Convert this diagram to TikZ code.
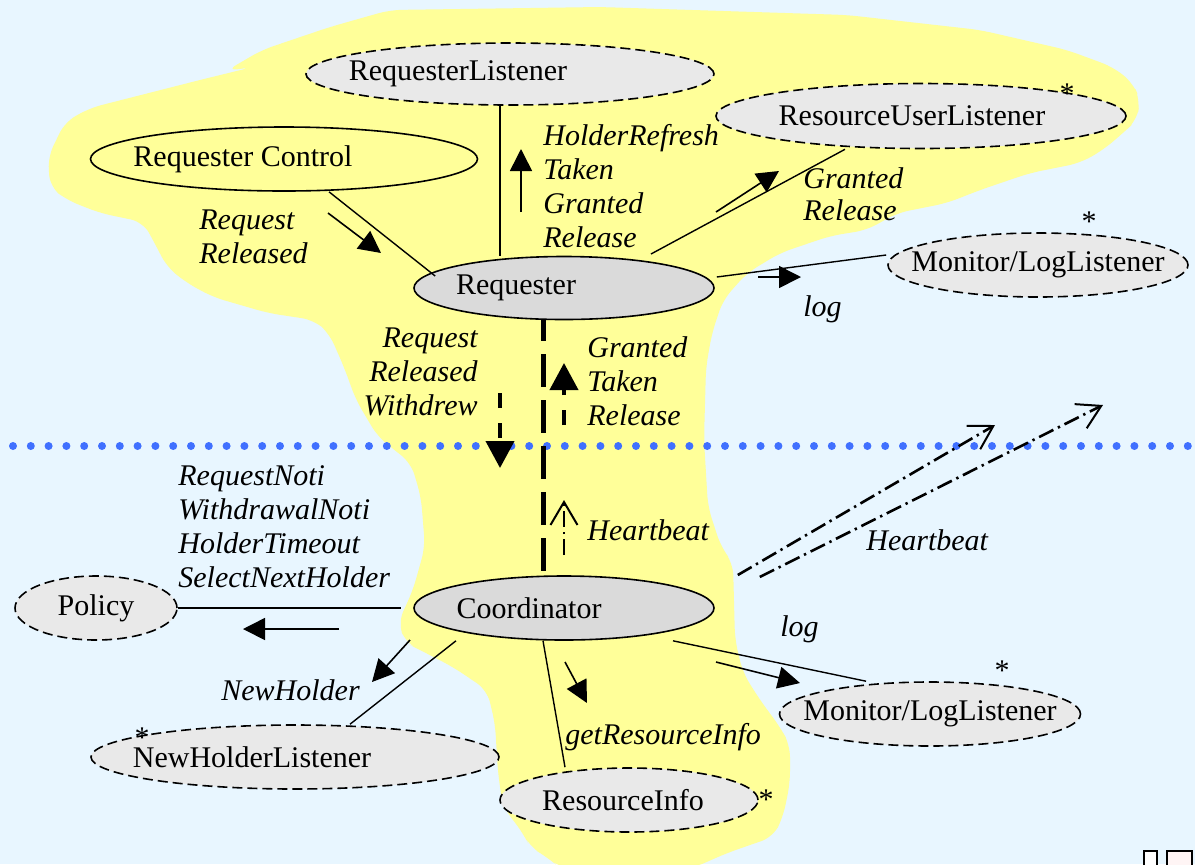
\documentclass[tikz,border=0pt]{standalone}
\usepackage{fontspec}
\setmainfont{Liberation Serif}
\usepackage{xcolor}
\usepackage{tikz}
\usetikzlibrary{arrows.meta, calc, shapes.geometric}

\definecolor{skyback}{RGB}{232,246,255}
\definecolor{blobyellow}{RGB}{255,255,153}
\definecolor{dotblue}{RGB}{64,112,255}
\definecolor{procgray}{RGB}{218,218,218}
\definecolor{lsngray}{RGB}{233,233,233}

% 椭圆里的文字, 可向左偏移
\newcommand{\ovaltext}[2][0pt]{\makebox[0pt]{\hspace*{#1}#2}}

\begin{document}
\begin{tikzpicture}[x=0.5pt, y={(0pt,-0.5pt)},
    every node/.style={font=\fontsize{15pt}{17pt}\selectfont},
    proc/.style={ellipse, draw, line width=0.8pt, fill=procgray, minimum width=150pt, minimum height=32pt, inner sep=0pt},
    ctrl/.style={ellipse, draw, line width=0.8pt, minimum height=32pt, inner sep=0pt},
    lsn/.style={ellipse, draw, line width=0.8pt, dash pattern=on 5pt off 2.5pt, fill=lsngray, minimum height=32pt, inner sep=0pt},
    msg/.style={font=\fontsize{15pt}{17pt}\selectfont\itshape, inner sep=0pt, anchor=north west, align=left},
    mult/.style={inner sep=0pt, anchor=base},
    link/.style={line width=0.7pt},
    flow/.style={line width=0.8pt, -{Triangle[length=11pt, width=11pt]}},
    bus/.style={line width=2.5pt, dash pattern=on 16.5pt off 6.5pt, dash phase=6pt},
    busflow/.style={line width=2pt, dash pattern=on 7.5pt off 7.5pt, -{Triangle[length=13.5pt, width=14pt]}},
    beat/.style={line width=1.3pt, dash pattern=on 8pt off 2.5pt on 1.2pt off 2.5pt, -{Straight Barb[length=11.5pt, width=13.5pt, line width=1pt]}},
    dotline/.style={draw=dotblue, line width=4pt, line cap=round, dash pattern=on 0pt off 8.9pt}
]
    % 背景
    \useasboundingbox (0,0) rectangle (1195,864);
    \fill[skyback] (0,0) rectangle (1195,864);
    \fill[blobyellow, rounded corners=6pt]
        (226,71) -- (262,50) -- (330,27) -- (390,10) -- (600,7) -- (847,15) -- (980,30)
        -- (1067,50) -- (1113,67) -- (1133,83) -- (1140,100) -- (1137,120) -- (1123,133)
        -- (1103,150) -- (1080,163) -- (1030,173) -- (980,190) -- (947,203) -- (897,213)
        -- (867,230) -- (830,236) -- (780,253) -- (747,273) -- (723,300) -- (712,333)
        -- (706,367) -- (704,440) -- (708,507) -- (721,547) -- (733,563) -- (735,640)
        -- (743,673) -- (760,700) -- (780,727) -- (790,745) -- (790,783) -- (783,817)
        -- (773,837) -- (727,853) -- (693,868) -- (560,868) -- (547,857) -- (530,847)
        -- (523,833) -- (503,807) -- (498,773) -- (495,723) -- (487,690) -- (453,667)
        -- (420,650) -- (406,643) -- (398,623) -- (413,590) -- (425,547) -- (421,497)
        -- (411,463) -- (378,437) -- (356,400) -- (344,367) -- (329,333) -- (314,320)
        -- (268,313) -- (213,297) -- (187,283) -- (167,267) -- (153,240) -- (143,222)
        -- (100,213) -- (67,200) -- (50,187) -- (48,157) -- (65,122) -- (90,108)
        -- (200,80) -- (253,67) -- cycle;
    \draw[dotline] (13,446) -- (1195,446);

    % 节点
    \node[lsn, minimum width=204pt, minimum height=31pt] (rl) at (510,74) {\ovaltext[-52pt]{RequesterListener}};
    \node[lsn, minimum width=205pt, minimum height=32.5pt] (rul) at (921,116) {\ovaltext[-9pt]{ResourceUserListener}};
    \node[ctrl, minimum width=193.5pt] (rc) at (284,159) {\ovaltext[-41pt]{Requester Control}};
    \node[proc, minimum height=31.5pt] (req) at (564,288) {\ovaltext[-48pt]{Requester}};
    \node[lsn, minimum width=150pt] (mon) at (1038,265) {\ovaltext{Monitor/LogListener}};
    \node[proc] (coord) at (564,608) {\ovaltext[-35pt]{Coordinator}};
    \node[lsn, minimum width=81pt] (pol) at (96,608) {\ovaltext{Policy}};
    \node[lsn, minimum width=204pt] (nhl) at (295,757) {\ovaltext[-43pt]{NewHolderListener}};
    \node[lsn, minimum width=129pt] (ri) at (629,800) {\ovaltext[-6pt]{ResourceInfo}};
    \node[lsn, minimum width=150.5pt] (mlog) at (930,714) {\ovaltext{Monitor/LogListener}};

    % 多重性
    \node[mult] (s1) at (1067,103) {*};
    \node[mult] (s2) at (1089,231) {*};
    \node[mult] (s3) at (1002,680) {*};
    \node[mult] (s4) at (142,747) {*};
    \node[mult] (s5) at (766,809) {*};

    % 连线
    \coordinate (rlfoot) at ($(rl.south)+(-10,0)$);
    \draw[link] (rlfoot) -- (rlfoot |- req.north);
    \draw[link] ($(rc.south)+(45,0)$) -- ($(req.west)+(22,-12)$);
    \draw[link] ($(req.center)+(87,-34)$) -- ($(rul.south)+(-76,0)$);
    \draw[link] ($(req.east)+(2,-11)$) -- ($(mon.west)+(-1,-10)$);
    \draw[link] (pol.east) -- ($(coord.west)+(-12,0)$);
    \draw[link] ($(coord.south)+(-108,0)$) -- ($(nhl.north)+(55,0)$);
    \draw[link] ($(coord.south)+(-21,0)$) -- ($(ri.north)+(-64,0)$);
    \draw[link] ($(coord.south)+(109,0)$) -- ($(mlog.north)+(-64,0)$);
    \draw[bus] ($(req.south)+(-21,0)$) -- ($(coord.north)+(-21,0)$);

    % 消息箭头
    \draw[flow] (521,212) -- (521,149);
    \draw[flow] (328,213) -- (381,253);
    \draw[flow] (716,212) -- (779,171);
    \draw[flow] (758,277) -- (801,277);
    \draw[flow] (339,629) -- (243,629);
    \draw[flow] (410,640) -- (372,682);
    \draw[flow] (565,662) -- (587,703);
    \draw[flow] (716,662) -- (800,683);
    \draw[busflow] (500,393) -- (500,468);
    \draw[busflow] (564,425) -- (564,363);
    \draw[beat] (564,555) -- (564,500);

    % 心跳
    \coordinate (hbA) at (995,425);
    \coordinate (hbB) at (1103,405);
    \draw[beat] ($(coord.east)+(23,-33)$) -- (hbA);
    \draw[beat] ($(coord.east)+(45,-31)$) -- (hbB);

    % 标注
    \node[msg] (m1) at (543,124) {HolderRefresh\\Taken\\Granted\\Release};
    \node[msg] (m2) at (199,209) {Request\\Released};
    \node[msg, font=\fontsize{15pt}{16pt}\selectfont\itshape] (m3) at (803,167) {Granted\\Release};
    \node[msg] (m4) at (803,295) {log};
    \node[msg, anchor=north east, align=right] (m5) at (478,327) {Request\\Released\\Withdrew};
    \node[msg] (m6) at (587,336) {Granted\\Taken\\Release};
    \node[msg] (m7) at (587,519) {Heartbeat};
    \node[msg] (m8) at (178,465) {RequestNoti\\WithdrawalNoti\\HolderTimeout\\SelectNextHolder};
    \node[msg] (m9) at (221,679) {NewHolder};
    \node[msg] (m10) at (565,723) {getResourceInfo};
    \node[msg] (m11) at (780,615) {log};
    \node[msg] (m12) at (866,529) {Heartbeat};

    % 右下角
    \draw[line width=1pt, fill=white] (1144,851) rectangle (1157,872);
    \draw[line width=1pt, fill=red!4] (1167,851) rectangle (1192,872);
\end{tikzpicture}
\end{document}
